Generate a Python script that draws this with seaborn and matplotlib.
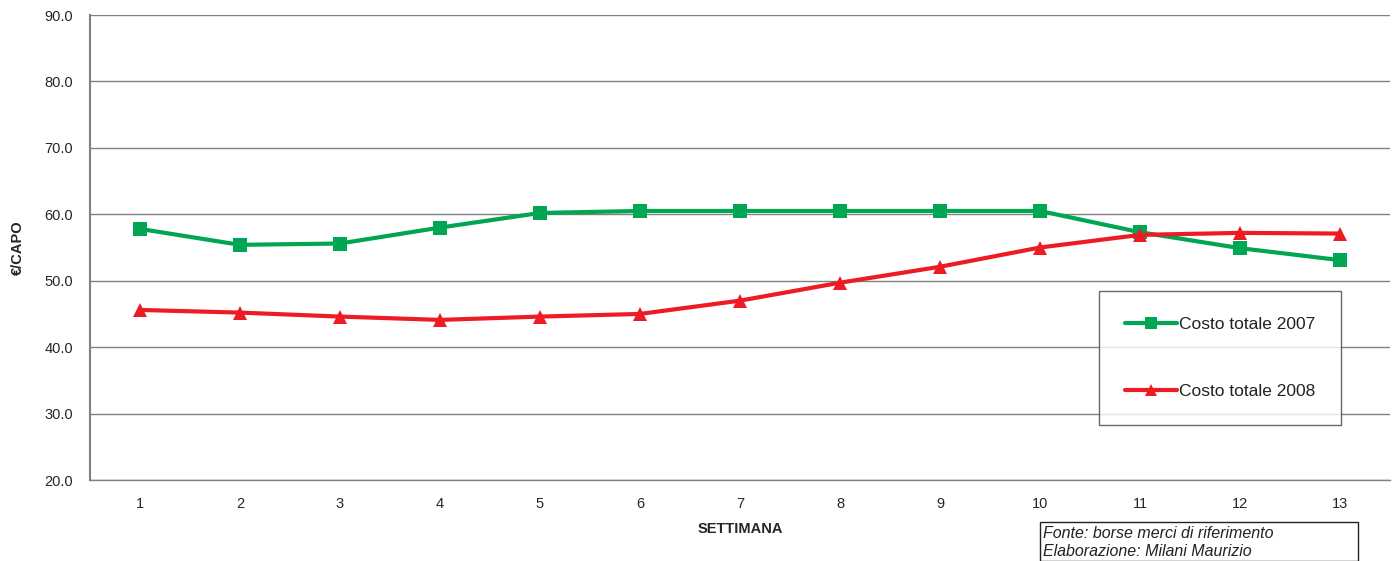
import numpy as np
import pandas as pd
import matplotlib
matplotlib.use("Agg")
import matplotlib.pyplot as plt
import seaborn as sns
from matplotlib.patches import Rectangle

# --- Data ---
weeks = list(range(1, 14))
costo_2007 = [57.8, 55.4, 55.6, 58.0, 60.2, 60.5, 60.5, 60.5, 60.5, 60.5, 57.3, 54.9, 53.1]
costo_2008 = [45.6, 45.2, 44.6, 44.1, 44.6, 45.0, 47.0, 49.7, 52.1, 55.0, 56.9, 57.2, 57.1]
series_names = ["Costo totale 2007", "Costo totale 2008"]
y_ticks = [20, 30, 40, 50, 60, 70, 80, 90]

GREEN = "#00A651"
RED = "#ED1C24"
GRID = "#808080"

df = pd.DataFrame({
    "settimana": weeks * 2,
    "costo": costo_2007 + costo_2008,
    "serie": [series_names[0]] * len(weeks) + [series_names[1]] * len(weeks),
})

# --- Style ---
sns.set_style("white")
plt.rcParams["font.family"] = ["Liberation Sans", "DejaVu Sans"]
plt.rcParams["text.color"] = "#222222"

fig = plt.figure(figsize=(13.94, 5.61), dpi=100)
ax = fig.add_axes([90 / 1394, 1 - 480 / 561, 1300 / 1394, 465 / 561])

sns.lineplot(data=df, x="settimana", y="costo", hue="serie", style="serie",
             palette=[GREEN, RED], markers=["s", "^"], dashes=False,
             markersize=10, linewidth=3, markeredgewidth=0, ax=ax)

# --- Axes ---
ax.set_xlim(0.5, 13.5)
ax.set_ylim(20, 90)
ax.set_yticks(y_ticks)
ax.set_yticklabels([f"{v:.1f}" for v in y_ticks], fontsize=10.5)
ax.set_xticks(weeks)
ax.set_xticklabels([str(w) for w in weeks], fontsize=10.5)
ax.set_xticks(np.arange(0.5, 14, 1), minor=True)
ax.tick_params(axis="x", which="major", length=0, pad=12)
ax.tick_params(axis="x", which="minor", length=6, direction="out", color=GRID)
ax.tick_params(axis="y", length=6, direction="out", color=GRID, pad=6)

ax.yaxis.grid(True, color=GRID, linewidth=1)
ax.set_axisbelow(True)
for side in ["top", "right"]:
    ax.spines[side].set_visible(False)
ax.spines["left"].set_color(GRID)
ax.spines["left"].set_linewidth(1.5)
ax.spines["bottom"].set_color(GRID)
ax.spines["bottom"].set_linewidth(1)

ax.set_xlabel("SETTIMANA", fontsize=10.5, fontweight="bold", labelpad=8)
ax.set_ylabel("€/CAPO", fontsize=10.5, fontweight="bold", labelpad=14)

# --- Legend ---
handles, labels = ax.get_legend_handles_labels()
leg = ax.legend(handles, labels, loc="center",
                bbox_to_anchor=(1220 / 1394, 1 - 358 / 561),
                bbox_transform=fig.transFigure, fontsize=12.5,
                frameon=True, fancybox=False, edgecolor="#444444",
                labelspacing=3.0, borderpad=1.5, handlelength=3.0,
                handletextpad=0.1, borderaxespad=0, markerscale=0.8)
leg.get_frame().set_linewidth(1)

# --- Source box ---
fig.patches.append(Rectangle((1040 / 1394, 0), 318 / 1394, 39 / 561,
                             transform=fig.transFigure, fill=False,
                             edgecolor="#222222", linewidth=1))
fig.text(1043 / 1394, 1 - 533 / 561, "Fonte: borse merci di riferimento",
         fontsize=11.5, fontstyle="italic", va="center", ha="left")
fig.text(1043 / 1394, 1 - 551 / 561, "Elaborazione: Milani Maurizio",
         fontsize=11.5, fontstyle="italic", va="center", ha="left")

fig.savefig("out.png", dpi=100)
